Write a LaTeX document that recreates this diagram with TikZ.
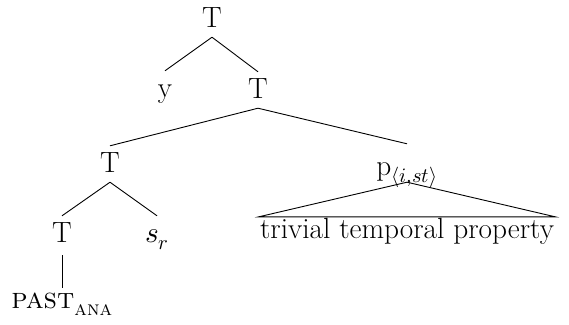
\documentclass[tikz,border=0pt]{standalone}
\usepackage{unicode-math}
\begin{document}
\begin{tikzpicture}[x=1pt,y=-1pt,
  lab/.style={inner sep=0pt,anchor=base,text height=26pt,text depth=10pt,font=\fontsize{29.3}{35}\selectfont},
  edge/.style={line width=0.9pt}]
\useasboundingbox (0,0) rectangle (569,324);
\node[lab] (t1) at (212,27) {T};
\node[lab] (y) at (165,97) {y};
\node[lab] (t2) at (258,98) {T};
\node[lab] (t3) at (110,172) {T};
\node[lab,text height=31pt,text depth=7pt] (p) at (407,175) {$\mathrm{p}_{\langle i,st\rangle}$};
\node[lab,text depth=13pt] (t4) at (62,242) {T};
\node[lab] (sr) at (157,242) {$s_r$};
\node[lab,text height=20pt] (past) at (62,308) {\textsc{past}\textsubscript{\textsc{ana}}};
\node[lab,text height=21pt,inner xsep=1pt] (tt) at (407,238) {trivial temporal property};
\draw[edge] (t1.south) -- (y.north);
\draw[edge] (t1.south) -- (t2.north);
\draw[edge] (t2.south) -- (t3.north);
\draw[edge] (t2.south) -- (p.north);
\draw[edge] (t3.south) -- (t4.north);
\draw[edge] (t3.south) -- (sr.north);
\draw[edge] (t4.south) -- (past.north);
\draw[edge] (p.south) -- (tt.north west) -- (tt.north east) -- cycle;
\end{tikzpicture}
\end{document}
